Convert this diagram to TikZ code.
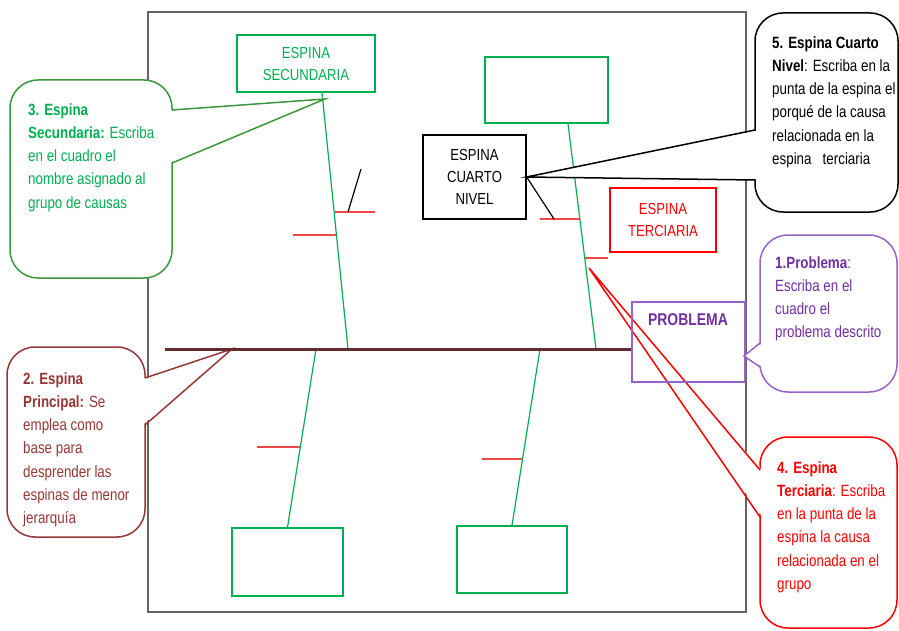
\documentclass[tikz,border=0pt]{standalone}
\usepackage{fontspec}
\setmainfont[FakeStretch=0.82]{Liberation Sans}
\usetikzlibrary{calc}
\usepackage{xcolor}

\definecolor{verde}{RGB}{0,176,80}
\definecolor{verdeosc}{RGB}{60,150,60}
\definecolor{cafe}{RGB}{150,55,55}
\definecolor{cafeosc}{RGB}{100,45,45}
\definecolor{morado}{RGB}{112,48,160}
\definecolor{moradoclaro}{RGB}{150,100,200}
\definecolor{rojo}{RGB}{255,0,0}
\definecolor{rojoclaro}{RGB}{240,70,70}
\definecolor{marco}{RGB}{100,100,100}

\begin{document}
\begin{tikzpicture}[x=1pt,y=-1pt,
  espina/.style={verde, line width=1.2pt},
  tick/.style={rojoclaro, line width=2pt},
  caja/.style={draw, line width=1.3pt, align=center, inner sep=0pt,
    font=\fontsize{16}{22}\selectfont},
  globo/.style={line width=1.5pt, fill=white, rounded corners=28pt},
  pico/.style={line width=1.5pt, line join=miter},
  txt/.style={font=\fontsize{16.3}{23.3}\selectfont, align=left,
    anchor=north west, inner sep=0pt}]
  \useasboundingbox (0,0) rectangle (899,631);

  % Frame
  \draw[marco, line width=2pt] (148,12) rectangle (746,612);

  % Boxes
  \node[caja, draw=verde, text=verde, minimum width=138pt, minimum height=57pt]
    (secundaria) at (306,63.5) {ESPINA\\SECUNDARIA};
  \node[caja, draw=verde, minimum width=123pt, minimum height=66pt]
    (vacioA) at (546.5,90) {};
  \node[caja, draw=verde, minimum width=111pt, minimum height=68pt]
    (vacioB) at (287.5,562) {};
  \node[caja, draw=verde, minimum width=110pt, minimum height=67pt]
    (vacioC) at (512,559.5) {};
  \node[caja, draw=black, minimum width=103pt, minimum height=84pt]
    (cuarto) at (474.5,177) {ESPINA\\CUARTO\\NIVEL};
  \node[caja, draw=rojo, text=rojo, minimum width=106pt, minimum height=64pt]
    (terciaria) at (663,220) {ESPINA\\TERCIARIA};

  % Main spine
  \coordinate (cola) at (165,349);
  \coordinate (s1) at (348,349);
  \coordinate (s2) at (596,349);
  \coordinate (s3) at (316,349);
  \coordinate (s4) at (540,349);

  % Secondary spines
  \draw[espina] ($(secundaria.south)+(16,0)$) -- (s1);
  \draw[espina] ($(vacioA.south)+(21.5,0)$) -- (s2);
  \draw[espina] (s3) -- (vacioB.north);
  \draw[espina] (s4) -- (vacioC.north);

  % Tertiary spines
  \draw[tick] (335,212) -- (375,212);
  \draw[tick] (293,235) -- (336,235);
  \draw[tick] (540,219) -- (580,219);
  \draw[tick] (585,258) -- (608,258);
  \draw[tick] (257,447) -- (300,447);
  \draw[tick] (482,459) -- (522,459);

  % Fourth level
  \draw[line width=1.2pt] (348,212) -- (361,169);
  \draw[line width=1.2pt] (cuarto.east) -- (554,219);

  % Callout 3 (green)
  \coordinate (tip3) at (325,99);
  \draw[globo, draw=verdeosc] (10,80) rectangle (172,278);
  \fill[white] (170,110.5) -- (tip3) -- (170,162.5) -- cycle;
  \draw[pico, verdeosc] (172,110) -- (tip3) -- (172,163);

  % Callout 2 (brown)
  \coordinate (tip2) at (232,349);
  \draw[globo, draw=cafe] (7,347) rectangle (145,537);
  \fill[white] (143,378.5) -- (tip2) -- (143,424.5) -- cycle;
  \draw[pico, cafe] (145,378) -- (tip2) -- (145,425);

  % Callout 5 (black)
  \draw[globo, draw=black] (755,13) rectangle (898,212);
  \fill[white] (757,130.5) -- (cuarto.east) -- (757,179.5) -- cycle;
  \draw[pico, black] (755,130) -- (cuarto.east) -- (755,180);

  % Callout 4 (red)
  \coordinate (tip4) at (589,268);
  \draw[globo, draw=rojo] (760,437) rectangle (897,628);
  \fill[white] (762,470.5) -- (tip4) -- (762,516.5) -- cycle;
  \draw[pico, rojo] (760,470) -- (tip4) -- (760,517);

  % Problem box and head of the spine
  \node[caja, draw=moradoclaro, minimum width=113pt, minimum height=80pt]
    (problema) at (688.5,342) {};
  \node[text=morado, font=\fontsize{17}{20}\selectfont\bfseries]
    (problemaTxt) at (688,320) {PROBLEMA};
  \draw[cafeosc, line width=3pt] (cola) -- (cola -| problema.west);

  % Callout 1 (purple)
  \coordinate (tip1) at (744,356);
  \draw[globo, draw=moradoclaro] (760,235) rectangle (897,392);
  \fill[white] (762,343.5) -- (tip1) -- (762,366.5) -- cycle;
  \draw[pico, moradoclaro] (760,343) -- (tip1) -- (760,367);

  % Callout texts
  \node[txt, text=verde] (txt3) at (28,103)
    {\textbf{3. Espina}\\\textbf{Secundaria:} Escriba\\en el cuadro el\\nombre asignado al\\grupo de causas};
  \node[txt, text=cafe] (txt2) at (23,372)
    {\textbf{2. Espina}\\\textbf{Principal:} Se\\emplea como\\base para\\desprender las\\espinas de menor\\jerarquía};
  \node[txt, text=black] (txt5) at (772,36)
    {\textbf{5. Espina Cuarto}\\\textbf{Nivel}: Escriba en la\\punta de la espina el\\porqué de la causa\\relacionada en la\\espina\ \ \ terciaria};
  \node[txt, text=morado] (txt1) at (775,256)
    {\textbf{1.Problema}:\\Escriba en el\\cuadro el\\problema descrito};
  \node[txt, text=rojo] (txt4) at (777,461)
    {\textbf{4. Espina}\\\textbf{Terciaria}: Escriba\\en la punta de la\\espina la causa\\relacionada en el\\grupo};
\end{tikzpicture}
\end{document}
